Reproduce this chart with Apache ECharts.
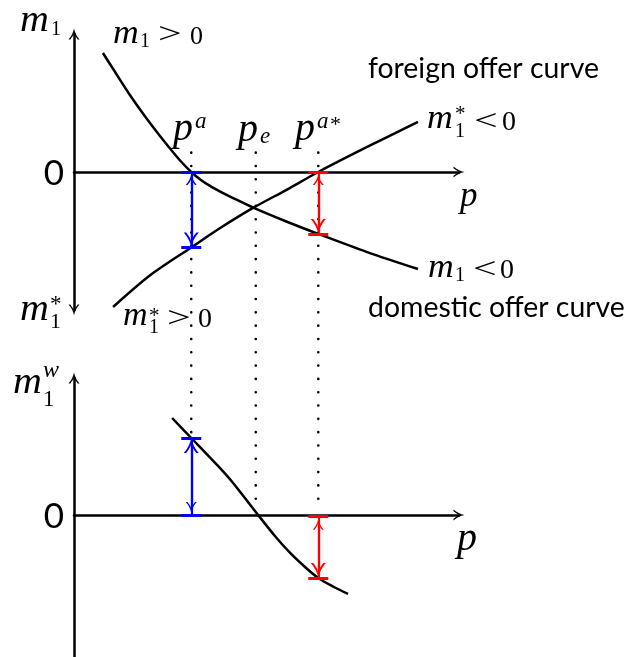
<!DOCTYPE html>
<html><head><meta charset="utf-8">
<script src="https://cdn.jsdelivr.net/npm/echarts@6/dist/echarts.min.js"></script>
<style>html,body{margin:0;padding:0;background:#fff}#c{width:630px;height:657px}</style>
</head><body><div id="c"></div>
<script>
// ---- data ----
const priceMarks = [3.0, 4.65, 6.25];            // p^a, p_e, p^{a*}
const domesticP  = [0.74, 1.05, 1.43, 1.82, 2.2, 2.53, 2.76, 3.0, 3.23, 3.48, 3.74, 4.07, 4.6, 5.4, 6.25, 7.5, 8.8];
const domesticM1 = [8.28, 6.96, 5.36, 3.86, 2.5, 1.39, 0.66, 0, -0.52, -0.97, -1.36, -1.81, -2.5, -3.41, -4.31, -5.57, -6.75];
const foreignP   = [1.0, 1.94, 3.0, 3.74, 4.58, 5.45, 6.25, 7.5, 8.8];
const foreignM1  = [-9.39, -7.2, -5.25, -3.9, -2.5, -1.22, 0, 1.74, 3.48];
const worldP     = [2.51, 3.0, 3.66, 4.07, 4.71, 5.14, 5.53, 5.91, 6.25, 6.65, 7.01];
const worldM1    = [6.69, 5.31, 3.45, 2.21, 0, -1.45, -2.62, -3.59, -4.35, -4.97, -5.45];
const gapP        = [3.0, 6.25];
const gapTopFrom  = [0, 0];
const gapTopTo    = [-5.25, -4.31];
const gapBotFrom  = [0, -0.12];
const gapBotTo    = [5.31, -4.35];
const gapColors   = ['#0000ff', '#ff0000'];
const dotTop = 25;                     // in lower-panel units
const dotBottom = [5.31, 1.0, 1.0];

// ---- layout ----
const G0 = {left: 74, top: 34, width: 385, height: 276};
const G1 = {left: 74, top: 378, width: 385, height: 279};
const X_MAX = 9.85, Y0 = [-9.6, 9.6], Y1 = [-9.8, 9.45];
const HEAD = [11, 15];

// ---- styling helpers ----
const ARROW = 'path://M50,0 Q60,55 100,100 L84,100 Q56,66 50,40 Q44,66 16,100 L0,100 Q40,55 50,0 Z';
const SERIF = '"Liberation Serif", "Times New Roman", serif';
const SANS = 'Lato, "Noto Sans", sans-serif';
const mctx = document.createElement('canvas').getContext('2d');
function midOffset(font) {               // distance from 'middle' line down to alphabetic baseline
  mctx.font = font; mctx.textBaseline = 'middle';
  return mctx.measureText('H').actualBoundingBoxDescent;
}
function tx(x, base, text, size, opt) {
  opt = opt || {};
  const font = (opt.it ? 'italic ' : '') + size + 'px ' + (opt.sans ? SANS : SERIF);
  return { type: 'text', x: x, y: base - midOffset(font), scaleX: opt.sx || 1, z: 100,
    style: { text: text, font: font, fill: '#000',
      textAlign: opt.align || 'left', textVerticalAlign: 'middle', align: opt.align || 'left', verticalAlign: 'middle' } };
}
mctx.font = '100px ' + SANS; mctx.textBaseline = 'alphabetic';
const labSize = 100 * 257 / mctx.measureText('domestic offer curve').width;
const REL = {sx: 1.4};

const graphics = [
  // m_1 (top axis)
  tx(20, 31, 'm', 37, {it: true, sx: 1.08}), tx(51, 35, '1', 20),
  // m_1 > 0
  tx(113, 43, 'm', 33, {it: true, sx: 1.08}), tx(140, 47, '1', 20), tx(158, 43, '>', 30, REL), tx(190, 44, '0', 26),
  // foreign offer curve
  tx(368, 78, 'foreign offer curve', labSize, {sans: true}),
  // m_1^* < 0
  tx(427, 128, 'm', 33, {it: true, sx: 1.08}), tx(455, 120, '*', 21), tx(455, 137, '1', 20), tx(474, 130, '<', 30, REL), tx(502, 130, '0', 28),
  // p^a, p_e, p^{a*}
  tx(173, 140, 'p', 40, {it: true}), tx(195, 128, 'a', 23, {it: true}),
  tx(238, 141, 'p', 40, {it: true}), tx(260, 143, 'e', 23, {it: true}),
  tx(295, 140, 'p', 40, {it: true}), tx(317, 128, 'a', 23, {it: true}), tx(330, 131, '*', 22),
  // 0 labels
  tx(54, 185, '0', 35, {sans: true, align: 'center'}),
  tx(54, 528, '0', 35, {sans: true, align: 'center'}),
  // p axis labels
  tx(460, 206, 'p', 35, {it: true}),
  tx(457, 550, 'p', 40, {it: true}),
  // m_1 < 0
  tx(428, 277, 'm', 33, {it: true, sx: 1.08}), tx(455, 281, '1', 20), tx(473, 278, '<', 30, REL), tx(500, 278, '0', 28),
  // domestic offer curve
  tx(368, 317, 'domestic offer curve', labSize, {sans: true}),
  // m_1^* (down axis)
  tx(20, 320, 'm', 37, {it: true, sx: 1.08}), tx(50, 311, '*', 23), tx(50, 328, '1', 22),
  // m_1^* > 0
  tx(123, 325, 'm', 33, {it: true, sx: 1.03}), tx(149, 322, '*', 21), tx(149, 333, '1', 20), tx(167, 327, '>', 30, REL), tx(198, 327, '0', 28),
  // m_1^w
  tx(13, 393, 'm', 37, {it: true, sx: 1.08}), tx(43, 377, 'w', 24, {it: true}), tx(43, 406, '1', 23)
];

function axisX(gi) {
  return { type: 'value', gridIndex: gi, min: 0, max: X_MAX,
    axisTick: {show: false}, axisLabel: {show: false}, splitLine: {show: false},
    axisLine: {onZero: true, symbol: ['none', ARROW], symbolSize: [11, 12], lineStyle: {color: '#000', width: 2.5}} };
}
function axisY(gi, rng, sym) {
  return { type: 'value', gridIndex: gi, min: rng[0], max: rng[1],
    axisTick: {show: false}, axisLabel: {show: false}, splitLine: {show: false},
    axisLine: {onZero: false, symbol: sym, symbolSize: [11, 12], lineStyle: {color: '#000', width: 2.5}} };
}
const zip = (a, b) => a.map((v, i) => [v, b[i]]);
const curve = (gi, xs, ys) => ({ type: 'line', xAxisIndex: gi, yAxisIndex: gi, data: zip(xs, ys), smooth: 0.3,
  showSymbol: false, symbol: 'none', lineStyle: {color: '#000', width: 2.5}, z: 5, silent: true });

const capHalf = 10 * X_MAX / G0.width;
function gapSeries(gi, from, to, grid, rng) {
  const inset = (HEAD[1] / 2) * (rng[1] - rng[0]) / grid.height;   // keep arrow tips on the caps
  const arrowData = [], capData = [], stems = [];
  gapP.forEach((p, i) => {
    const dir = Math.sign(to[i] - from[i]);
    const c = {color: gapColors[i]};
    stems.push({coords: [[p, from[i]], [p, to[i]]], lineStyle: c});
    arrowData.push({coords: [[p, from[i] + dir * inset], [p, to[i] - dir * inset]], lineStyle: c});
    capData.push({coords: [[p - capHalf, from[i]], [p + capHalf, from[i]]], lineStyle: c});
    capData.push({coords: [[p - capHalf, to[i]], [p + capHalf, to[i]]], lineStyle: c});
  });
  return [
    { type: 'lines', coordinateSystem: 'cartesian2d', xAxisIndex: gi, yAxisIndex: gi, symbol: 'none',
      lineStyle: {width: 2.2, opacity: 1}, data: stems, z: 8, silent: true },
    { type: 'lines', coordinateSystem: 'cartesian2d', xAxisIndex: gi, yAxisIndex: gi, symbol: [ARROW, ARROW],
      symbolSize: HEAD, lineStyle: {width: 2.2, opacity: 1}, data: arrowData, z: 8, silent: true },
    { type: 'lines', coordinateSystem: 'cartesian2d', xAxisIndex: gi, yAxisIndex: gi, symbol: 'none',
      lineStyle: {width: 3, opacity: 1}, data: capData, z: 9, silent: true }
  ];
}

const dotted = priceMarks.map((p, i) => ({ type: 'line', xAxisIndex: 1, yAxisIndex: 1, clip: false,
  data: [[p, dotTop], [p, dotBottom[i]]], showSymbol: false, symbol: 'none', silent: true, z: 2,
  lineStyle: {color: '#000', width: 2.6, type: [0.01, 13.3], cap: 'round'} }));

const chart = echarts.init(document.getElementById('c'), null, {renderer: 'canvas'});
chart.setOption({
  animation: false,
  backgroundColor: '#fff',
  grid: [G0, G1],
  xAxis: [axisX(0), axisX(1)],
  yAxis: [axisY(0, Y0, [ARROW, ARROW]), axisY(1, Y1, ['none', ARROW])],
  series: [
    ...dotted,
    curve(0, domesticP, domesticM1),
    curve(0, foreignP, foreignM1),
    curve(1, worldP, worldM1),
    ...gapSeries(0, gapTopFrom, gapTopTo, G0, Y0),
    ...gapSeries(1, gapBotFrom, gapBotTo, G1, Y1)
  ],
  graphic: graphics
});
</script></body></html>
